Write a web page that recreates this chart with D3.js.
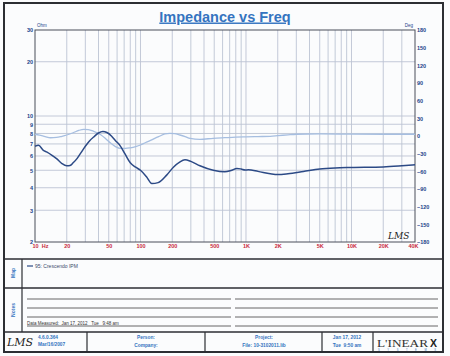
<!DOCTYPE html>
<html><head><meta charset="utf-8">
<script src="https://cdn.jsdelivr.net/npm/d3@7"></script>
<style>
html,body{margin:0;padding:0;background:#fbfcfd;}
svg{display:block;font-family:"Liberation Sans",Arial,sans-serif;}
</style></head>
<body><svg id="c" width="450" height="356"></svg>
<script>
// ---- data ----
const magFreq = [10,10.8,12,13,14.5,16,18,20,21.5,23,25,27,30,33,36,40,44,48,53,58,64,72,80,90,100,114,128,147,177,205,235,264,300,366,490,630,720,820,900,980,1050,1300,1700,2000,2500,3500,5000,7000,10000,20000,30000,40000];
const magOhm  = [6.8,6.88,6.45,6.3,6.05,5.8,5.45,5.3,5.32,5.5,5.8,6.2,6.8,7.3,7.65,8.05,8.2,8.1,7.75,7.3,6.85,6.1,5.5,5.2,5.0,4.6,4.22,4.27,4.7,5.2,5.55,5.71,5.6,5.3,5.0,4.9,4.98,5.12,5.08,5.02,5.03,4.93,4.78,4.73,4.78,4.92,5.08,5.15,5.18,5.22,5.3,5.37];
const phFreq  = [10,11,12.5,14,16,18,20,23,26,29,32,36,42,47,52,58,64,72,80,90,100,112,123,138,153,170,190,210,236,265,295,366,490,630,800,1000,1300,1700,2000,2500,3000,5000,10000,20000,40000];
const phDeg   = [3,1.5,-1,-3,-2.5,-0.5,1.7,5.5,9.5,11.4,11,8,2,-5,-12,-18,-21,-21,-20,-18,-15.3,-11,-8,-3.5,0,3.5,4.6,4,1.7,-1,-3.9,-5.6,-3.9,-2.9,-2,-1.5,-1,-0.5,0.5,2,3,3.5,3.2,3,3];
const ohmTicks = [2,3,4,5,6,7,8,9,10,20,30];
const degTicks = [-180,-150,-120,-90,-60,-30,0,30,60,90,120,150,180];
const freqTicks = [10,20,50,100,200,500,1000,2000,5000,10000,20000,40000];
const freqLabels = ["10  Hz","20","50","100","200","500","1K","2K","5K","10K","20K","40K"];
const legendLabel = "95: Crescendo IPM";

const svg = d3.select("#c");
const L=35, R=415, T=30, B=242;
const x = d3.scaleLog().domain([10,40000]).range([L,R]);
const yO = d3.scaleLog().domain([2,30]).range([B,T]);
const yD = d3.scaleLinear().domain([-180,180]).range([B,T]);

const navy="#22438a", gridC="#bcc4d4", red="#c8283c", blue="#3474c0";

// grid vertical
const vg=[];
for(let d=10; d<40000; d*=10) for(let m=1;m<=9;m++){const f=d*m; if(f>10&&f<40000) vg.push(f);}
svg.append("g").selectAll("line").data(vg).join("line")
  .attr("x1",d=>x(d)).attr("x2",d=>x(d)).attr("y1",T).attr("y2",B)
  .attr("stroke",gridC).attr("stroke-width",0.9);
svg.append("g").selectAll("line").data(ohmTicks.filter(v=>v>2&&v<30)).join("line")
  .attr("x1",L).attr("x2",R).attr("y1",d=>yO(d)).attr("y2",d=>yO(d))
  .attr("stroke",gridC).attr("stroke-width",0.9);

// plot border
svg.append("rect").attr("x",L).attr("y",T).attr("width",R-L).attr("height",B-T)
  .attr("fill","none").attr("stroke","#4a4f5a").attr("stroke-width",1);

// axes via d3
const axL = d3.axisLeft(yO).tickValues(ohmTicks).tickFormat(d3.format("d")).tickSize(0).tickPadding(2);
const gL = svg.append("g").attr("transform",`translate(${L},0)`).call(axL);
const axRt = d3.axisRight(yD).tickValues(degTicks).tickFormat(d3.format("d")).tickSize(0).tickPadding(2);
const gR = svg.append("g").attr("transform",`translate(${R},0)`).call(axRt);
const axB = d3.axisBottom(x).tickValues(freqTicks).tickFormat((d,i)=>freqLabels[i]).tickSize(0).tickPadding(2);
const gB = svg.append("g").attr("transform",`translate(0,${B})`).call(axB);
[gL,gR,gB].forEach(g=>{g.select(".domain").remove(); g.selectAll("text").attr("font-size",5.5).attr("font-weight","bold");});
gL.selectAll("text").attr("fill",navy);
gR.selectAll("text").attr("fill",navy);
gB.selectAll("text").attr("fill",red);
gB.selectAll("text").filter((d,i)=>i===0).attr("text-anchor","start").attr("dx",-3).attr("xml:space","preserve");
gB.selectAll("text").filter((d,i)=>i===freqTicks.length-1).attr("text-anchor","end").attr("dx",3);

svg.append("text").attr("x",L+2).attr("y",T-3).text("Ohm").attr("font-size",4.5).attr("fill",navy);
svg.append("text").attr("x",R-2).attr("y",T-3).attr("text-anchor","end").text("Deg").attr("font-size",4.5).attr("fill",navy);

// curves
const lineMag = d3.line().x((d,i)=>x(magFreq[i])).y(d=>yO(d)).curve(d3.curveMonotoneX);
const linePh = d3.line().x((d,i)=>x(phFreq[i])).y(d=>yD(d)).curve(d3.curveMonotoneX);
svg.append("path").attr("d",linePh(phDeg)).attr("fill","none").attr("stroke","#a6bee0").attr("stroke-width",1.3);
svg.append("path").attr("d",lineMag(magOhm)).attr("fill","none").attr("stroke","#2c4a86").attr("stroke-width",1.5);

// LMS mark in plot
svg.append("text").attr("x",388).attr("y",239).text("LMS").attr("font-family","DejaVu Serif").attr("font-style","italic").attr("font-size",9).attr("fill","#222");

// title
svg.append("text").attr("x",225).attr("y",21.5).attr("text-anchor","middle").text("Impedance vs Freq")
  .attr("font-size",14.5).attr("font-weight","bold").attr("fill",blue).attr("text-decoration","underline");

// frame
const fr = svg.append("g").attr("stroke","#2c2e33").attr("fill","none");
fr.append("rect").attr("x",4).attr("y",3).attr("width",439).attr("height",349).attr("stroke-width",2);
[259,288,332].forEach(yy=>fr.append("line").attr("x1",4).attr("x2",443).attr("y1",yy).attr("y2",yy).attr("stroke-width",1.6));
fr.append("line").attr("x1",22).attr("x2",22).attr("y1",259).attr("y2",332).attr("stroke-width",1.2);
[87,205,322,373].forEach(xx=>fr.append("line").attr("x1",xx).attr("x2",xx).attr("y1",332).attr("y2",352).attr("stroke-width",1.2));

// side labels
svg.append("text").attr("transform","translate(15,273) rotate(-90)").attr("text-anchor","middle").text("Map").attr("font-size",5).attr("font-weight","bold").attr("fill",blue);
svg.append("text").attr("transform","translate(15,310) rotate(-90)").attr("text-anchor","middle").text("Notes").attr("font-size",5).attr("font-weight","bold").attr("fill",blue);

// legend
svg.append("line").attr("x1",27).attr("x2",33).attr("y1",266).attr("y2",266).attr("stroke","#2c4a86").attr("stroke-width",1.2);
svg.append("text").attr("x",35).attr("y",267.8).text(legendLabel).attr("font-size",5).attr("fill","#3a4a6a");

// notes lines
[299,308,317,326].forEach(yy=>{
  svg.append("line").attr("x1",27).attr("x2",231).attr("y1",yy).attr("y2",yy).attr("stroke","#555").attr("stroke-width",0.9);
  svg.append("line").attr("x1",235).attr("x2",438).attr("y1",yy).attr("y2",yy).attr("stroke","#555").attr("stroke-width",0.9);
});
svg.append("text").attr("x",27).attr("y",325).text("Data Measured:  Jan 17, 2012   Tue   9:48 am").attr("xml:space","preserve").attr("font-size",4.5).attr("fill","#333");

// footer
svg.append("text").attr("x",7).attr("y",346).text("LMS").attr("font-family","DejaVu Serif").attr("font-style","italic").attr("font-size",11).attr("fill","#222");
const ft=(t,xx,yy,anchor)=>svg.append("text").attr("x",xx).attr("y",yy).attr("text-anchor",anchor||"middle").text(t).attr("font-size",4.8).attr("font-weight","bold").attr("fill",blue);
ft("4.6.0.364",38,339,"start"); ft("Mar/16/2007",38,346,"start");
ft("Person:",146,339); ft("Company:",146,346.5);
ft("Project:",264,339); ft("File: 10-3102011.lib",264,346.5);
ft("Jan 17, 2012",347,339); ft("Tue  9:50 am",347,346.5).attr("xml:space","preserve");
svg.append("text").attr("x",377).attr("y",346.5).text("L'INEAR").attr("font-family","Liberation Serif").attr("font-size",11)
  .attr("textLength",51).attr("lengthAdjust","spacingAndGlyphs").attr("fill","#333");
svg.append("text").attr("x",430).attr("y",346.5).text("X").attr("font-family","Liberation Sans").attr("font-weight","bold").attr("font-size",10.5).attr("fill","#222");
svg.append("text").attr("x",378).attr("y",351.2).text("S Y S T E M S").attr("font-size",2.6)
  .attr("textLength",58).attr("lengthAdjust","spacing").attr("fill",blue);
</script>
</body></html>
